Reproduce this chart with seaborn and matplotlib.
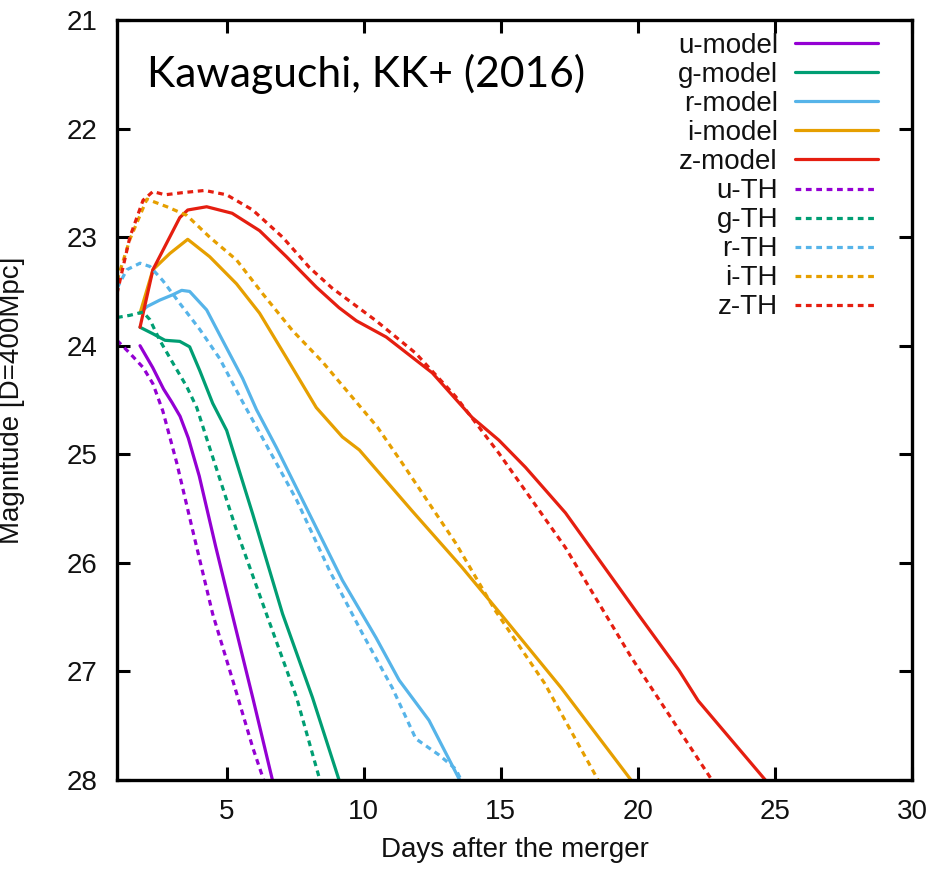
import numpy as np
import pandas as pd
import matplotlib
matplotlib.use("Agg")
import matplotlib.pyplot as plt
import seaborn as sns

# ---------------- data ----------------
u_model_x = [1.84, 2.3, 2.7, 3.0, 3.3, 3.6, 4.0, 4.6, 5.2, 5.95, 6.67]
u_model_y = [24.0, 24.2, 24.4, 24.52, 24.65, 24.85, 25.2, 25.85, 26.47, 27.24, 28.0]

g_model_x = [1.84, 2.31, 2.75, 3.29, 3.65, 4.02, 4.49, 5.0, 5.95, 7.04, 8.13, 9.1]
g_model_y = [23.83, 23.89, 23.95, 23.96, 24.01, 24.23, 24.53, 24.78, 25.55, 26.47, 27.24, 28.0]

r_model_x = [1.84, 2.09, 2.56, 3.04, 3.36, 3.65, 4.27, 4.85, 5.58, 6.09, 6.82, 8.02,
             9.22, 10.45, 11.29, 12.38, 13.5]
r_model_y = [23.70, 23.64, 23.58, 23.53, 23.49, 23.50, 23.67, 23.95, 24.30, 24.59, 24.94,
             25.55, 26.16, 26.69, 27.08, 27.45, 28.0]

i_model_x = [1.84, 2.31, 2.93, 3.58, 4.38, 5.36, 6.2, 7.18, 8.27, 9.22, 9.84, 11.76,
             13.58, 14.8, 17.2, 19.75]
i_model_y = [23.70, 23.30, 23.15, 23.02, 23.18, 23.43, 23.70, 24.11, 24.57, 24.84, 24.96,
             25.52, 26.04, 26.41, 27.15, 28.0]

z_model_x = [1.84, 2.31, 3.29, 3.58, 4.27, 5.2, 6.2, 7.18, 8.27, 9.1, 9.73, 10.82, 12.5,
             13.95, 14.93, 15.9, 17.36, 20.0, 21.5, 22.2, 24.65]
z_model_y = [23.83, 23.30, 22.82, 22.75, 22.72, 22.78, 22.94, 23.18, 23.46, 23.65, 23.77,
             23.92, 24.25, 24.66, 24.87, 25.12, 25.54, 26.47, 26.99, 27.27, 28.0]

u_th_x = [1.0, 1.47, 1.95, 2.31, 2.67, 3.18, 3.76, 4.49, 5.22, 5.95, 6.35]
u_th_y = [23.95, 24.07, 24.2, 24.35, 24.6, 25.08, 25.7, 26.47, 27.08, 27.7, 28.0]

g_th_x = [1.0, 1.47, 1.95, 2.2, 2.56, 3.04, 3.55, 3.91, 4.38, 5.36, 6.45, 7.55, 8.4]
g_th_y = [23.74, 23.72, 23.69, 23.76, 23.95, 24.16, 24.38, 24.57, 24.94, 25.70, 26.47,
          27.24, 28.0]

r_th_x = [1.0, 1.36, 1.84, 2.2, 2.67, 3.29, 4.02, 4.75, 5.5, 6.2, 7.55, 8.75, 9.95,
          11.04, 11.9, 12.75, 13.36, 13.55]
r_th_y = [23.47, 23.30, 23.24, 23.27, 23.40, 23.61, 23.85, 24.12, 24.48, 24.80, 25.42,
          26.07, 26.65, 27.15, 27.62, 27.77, 27.9, 28.0]

i_th_x = [1.0, 1.47, 2.09, 2.82, 3.55, 4.38, 5.36, 6.31, 7.4, 8.5, 9.5, 10.5, 11.4,
          13.36, 14.8, 16.6, 18.55]
i_th_y = [23.40, 23.02, 22.65, 22.72, 22.80, 23.0, 23.21, 23.52, 23.86, 24.15, 24.45,
          24.75, 25.08, 25.82, 26.44, 27.11, 28.0]

z_th_x = [1.0, 1.47, 1.95, 2.31, 2.75, 3.4, 4.2, 5.0, 5.95, 7.04, 8.02, 8.85, 10.45,
          11.9, 13.36, 14.93, 17.36, 19.76, 22.7]
z_th_y = [23.52, 23.0, 22.66, 22.58, 22.61, 22.59, 22.57, 22.61, 22.75, 23.0, 23.28,
          23.47, 23.77, 24.07, 24.47, 24.99, 25.86, 26.87, 28.0]

series_names = ["u-model", "g-model", "r-model", "i-model", "z-model",
                "u-TH", "g-TH", "r-TH", "i-TH", "z-TH"]
series_x = [u_model_x, g_model_x, r_model_x, i_model_x, z_model_x,
            u_th_x, g_th_x, r_th_x, i_th_x, z_th_x]
series_y = [u_model_y, g_model_y, r_model_y, i_model_y, z_model_y,
            u_th_y, g_th_y, r_th_y, i_th_y, z_th_y]

x_ticks = [5, 10, 15, 20, 25, 30]
y_ticks = [21, 22, 23, 24, 25, 26, 27, 28]

band_colors = ["#9400d3", "#009e73", "#56b4e9", "#e69f00", "#e51e10"]

# ---------------- figure ----------------
sns.set_style("white")
plt.rcParams["font.family"] = ["Liberation Sans", "DejaVu Sans"]

fig = plt.figure(figsize=(9.35, 8.71), dpi=100)
ax = fig.add_axes([117 / 935, (871 - 780) / 871, 795 / 935, 760 / 871])

lw = 2.3
for k, (name, xs, ys) in enumerate(zip(series_names, series_x, series_y)):
    df = pd.DataFrame({"x": xs, "y": ys})
    color = band_colors[k % 5]
    if k < 5:
        sns.lineplot(data=df, x="x", y="y", ax=ax, color=color, lw=lw,
                     label=name, sort=False, estimator=None)
    else:
        sns.lineplot(data=df, x="x", y="y", ax=ax, color=color, lw=lw,
                     linestyle=(0, (1.8, 1.45)), label=name, sort=False,
                     estimator=None)

ax.set_xlim(1, 30)
ax.set_ylim(28, 21)
ax.set_xticks(x_ticks)
ax.set_yticks(y_ticks)
ax.set_xticklabels([str(t) for t in x_ticks])
ax.set_yticklabels([str(t) for t in y_ticks])

for s in ax.spines.values():
    s.set_visible(True)
    s.set_color("black")
    s.set_linewidth(2.4)

ax.tick_params(axis="both", which="major", direction="in", length=9.5, width=2.2,
               color="black", labelsize=20, labelcolor="#111111",
               top=True, right=True, bottom=True, left=True)
ax.tick_params(axis="x", pad=14)
ax.tick_params(axis="y", pad=14)

ax.set_xlabel("Days after the merger", fontsize=20, color="#111111", labelpad=8)
ax.set_ylabel("Magnitude [D=400Mpc]", fontsize=20, color="#111111", labelpad=30)

ax.text(147 / 935, 1 - 87 / 871, "Kawaguchi, KK+ (2016)", transform=fig.transFigure,
        fontsize=30.7, family=["Lato", "DejaVu Sans"], color="black",
        ha="left", va="baseline")

leg = ax.legend(loc="upper right", bbox_to_anchor=(878 / 935, 1 - 33 / 871),
                bbox_transform=fig.transFigure, frameon=False, markerfirst=False,
                fontsize=20, handlelength=3.0, handletextpad=0.6,
                labelspacing=0.11, borderpad=0, borderaxespad=0)
for t in leg.get_texts():
    t.set_color("#111111")

fig.savefig("out.png", dpi=100)
